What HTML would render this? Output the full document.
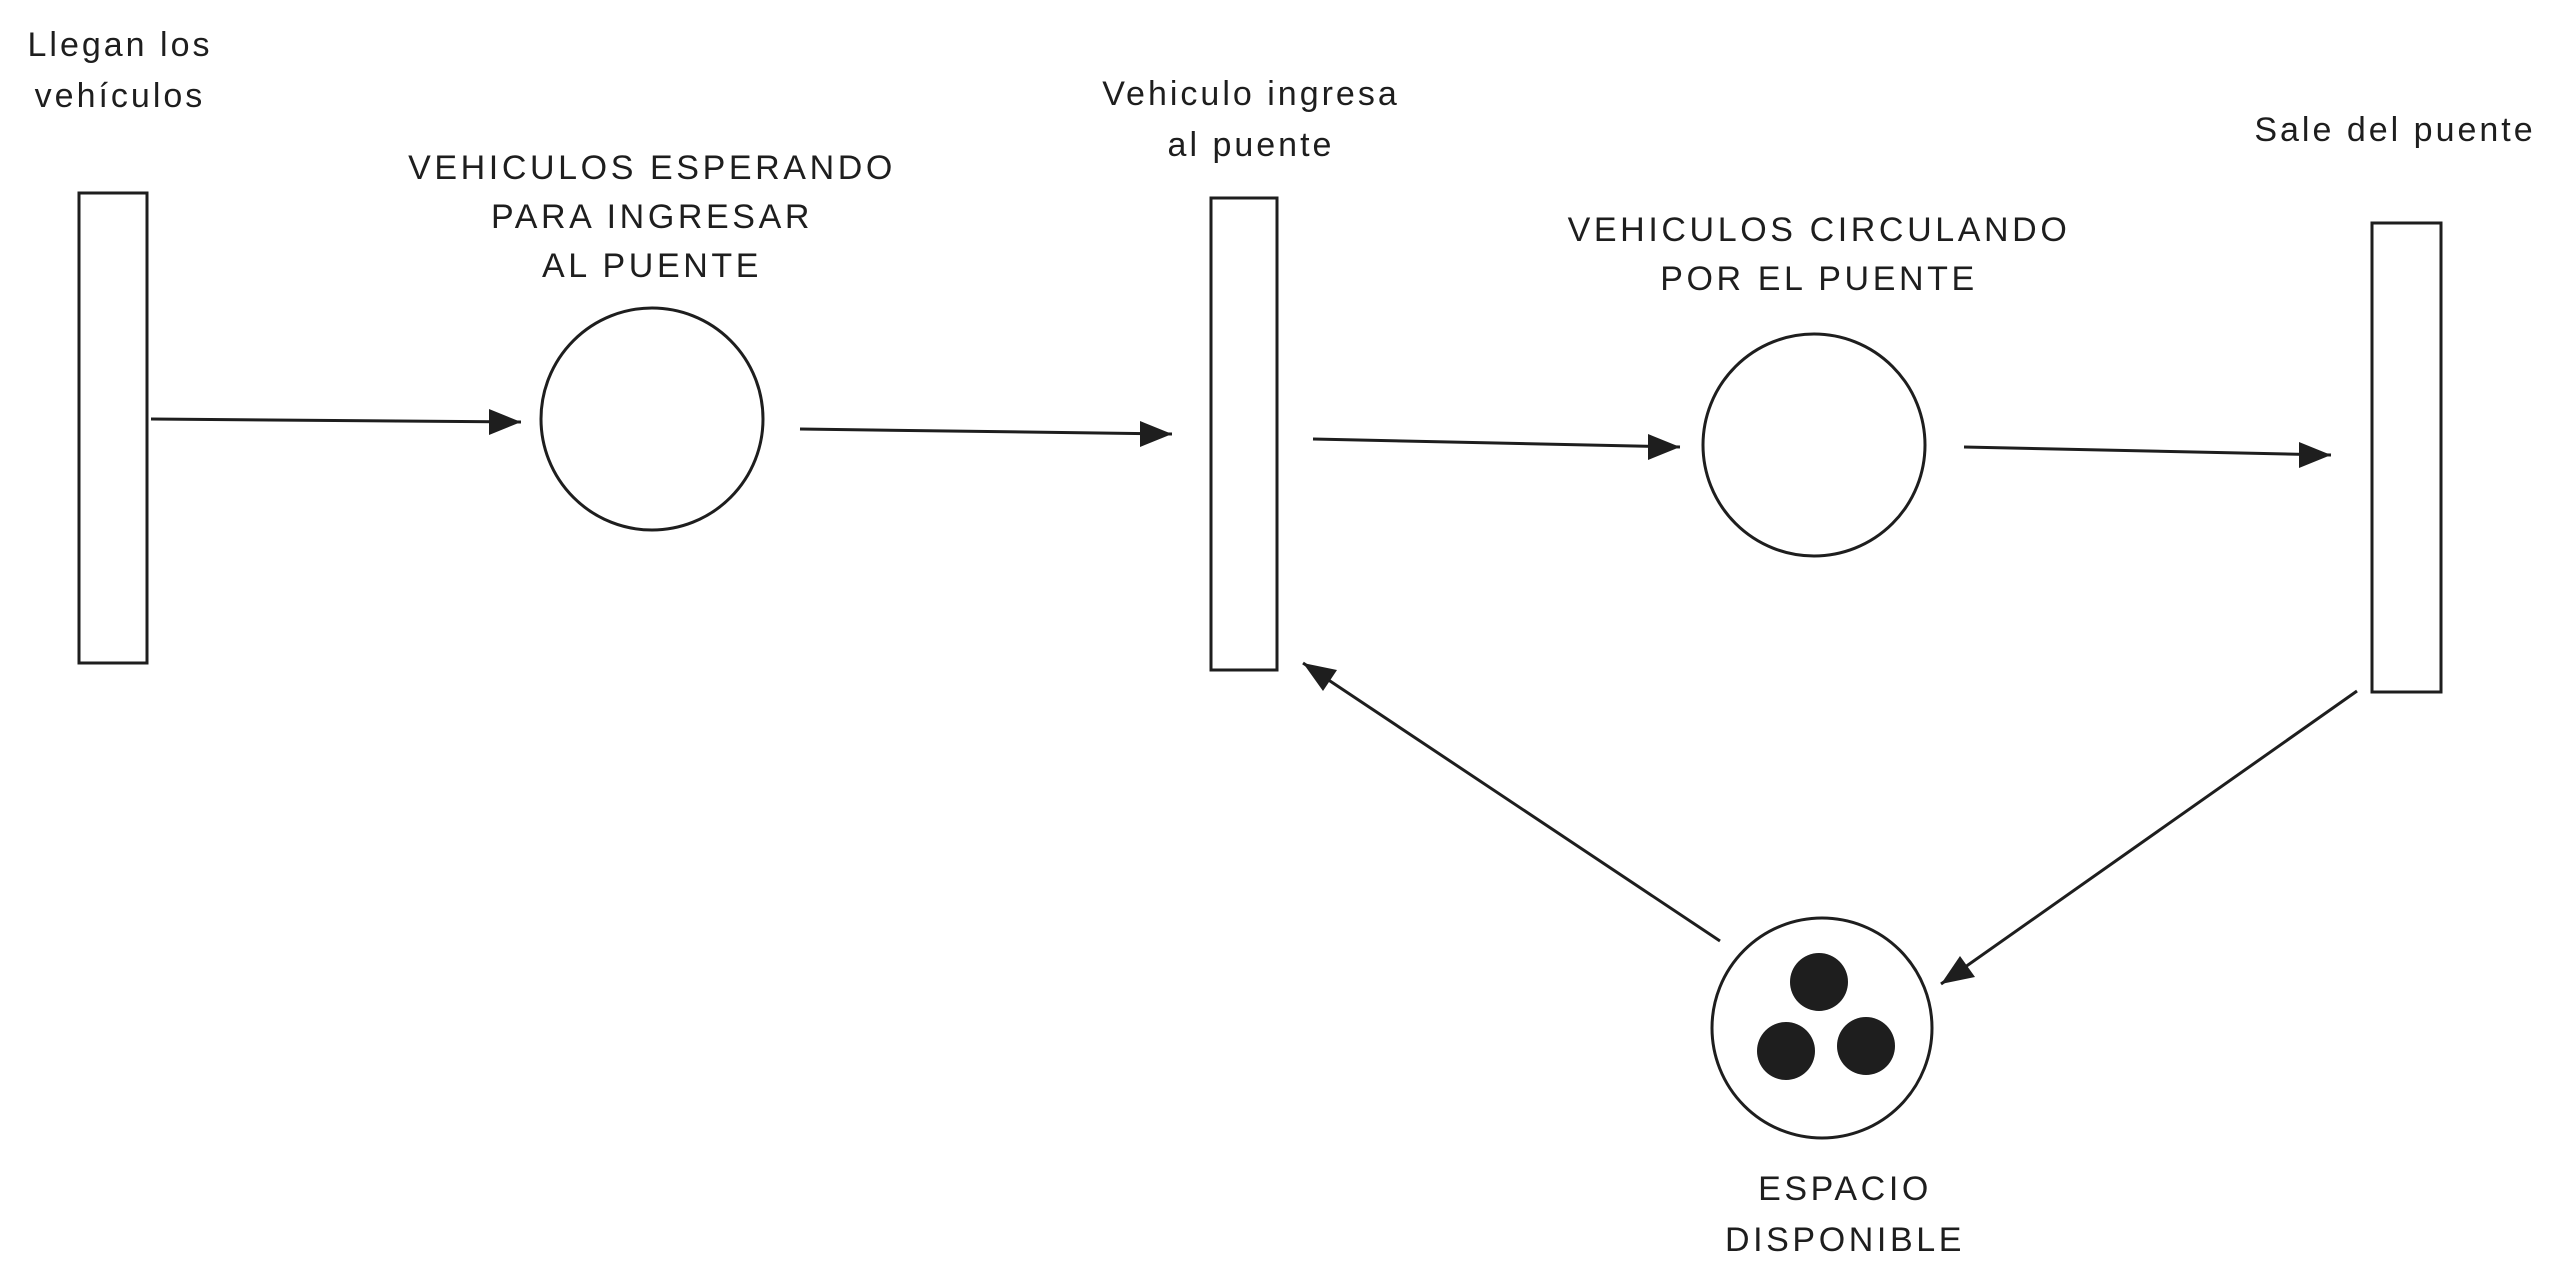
<!DOCTYPE html>
<html><head><meta charset="utf-8"><style>
html,body{margin:0;padding:0;background:#fff;}
svg{display:block;}
text{font-family:"Liberation Sans",sans-serif;font-size:34px;fill:#1e1e1e;text-anchor:middle;letter-spacing:3px;}
text.u{letter-spacing:3.6px;}
</style></head><body>
<svg width="2567" height="1285" viewBox="0 0 2567 1285" xmlns="http://www.w3.org/2000/svg">
<g fill="none" stroke="#1e1e1e" stroke-width="3">
<rect x="79" y="193" width="68" height="470"/>
<rect x="1211" y="198" width="66" height="472"/>
<rect x="2372" y="223" width="69" height="469"/>
<circle cx="652" cy="419" r="111"/>
<circle cx="1814" cy="445" r="111"/>
<circle cx="1822" cy="1028" r="110"/>
<line x1="151" y1="419" x2="521" y2="422"/>
<line x1="800" y1="429" x2="1172" y2="434"/>
<line x1="1313" y1="439" x2="1680" y2="447"/>
<line x1="1964" y1="447" x2="2331" y2="455"/>
<line x1="2357" y1="691" x2="1941" y2="984"/>
<line x1="1720" y1="941" x2="1303" y2="663"/>
</g>
<g fill="#1e1e1e">
<circle cx="1819" cy="982" r="29"/>
<circle cx="1786" cy="1051" r="29"/>
<circle cx="1866" cy="1046" r="29"/>
<polygon points="521,422 489,409 489,435"/>
<polygon points="1172,434 1140,421 1140,447"/>
<polygon points="1680,447 1648,434 1648,460"/>
<polygon points="2331,455 2299,442 2299,468"/>
<polygon points="1941,984 1960,956 1975,977"/>
<polygon points="1303,663 1337,670 1323,691"/>
</g>
<text x="120" y="56">Llegan los</text>
<text x="120" y="107">vehículos</text>
<text class="u" x="652" y="179">VEHICULOS ESPERANDO</text>
<text class="u" x="652" y="228">PARA INGRESAR</text>
<text class="u" x="652" y="277">AL PUENTE</text>
<text x="1251" y="105">Vehiculo ingresa</text>
<text x="1251" y="156">al puente</text>
<text class="u" x="1819" y="241">VEHICULOS CIRCULANDO</text>
<text class="u" x="1819" y="290">POR EL PUENTE</text>
<text x="2395" y="141">Sale del puente</text>
<text class="u" x="1845" y="1200">ESPACIO</text>
<text class="u" x="1845" y="1251">DISPONIBLE</text>
</svg>
</body></html>
